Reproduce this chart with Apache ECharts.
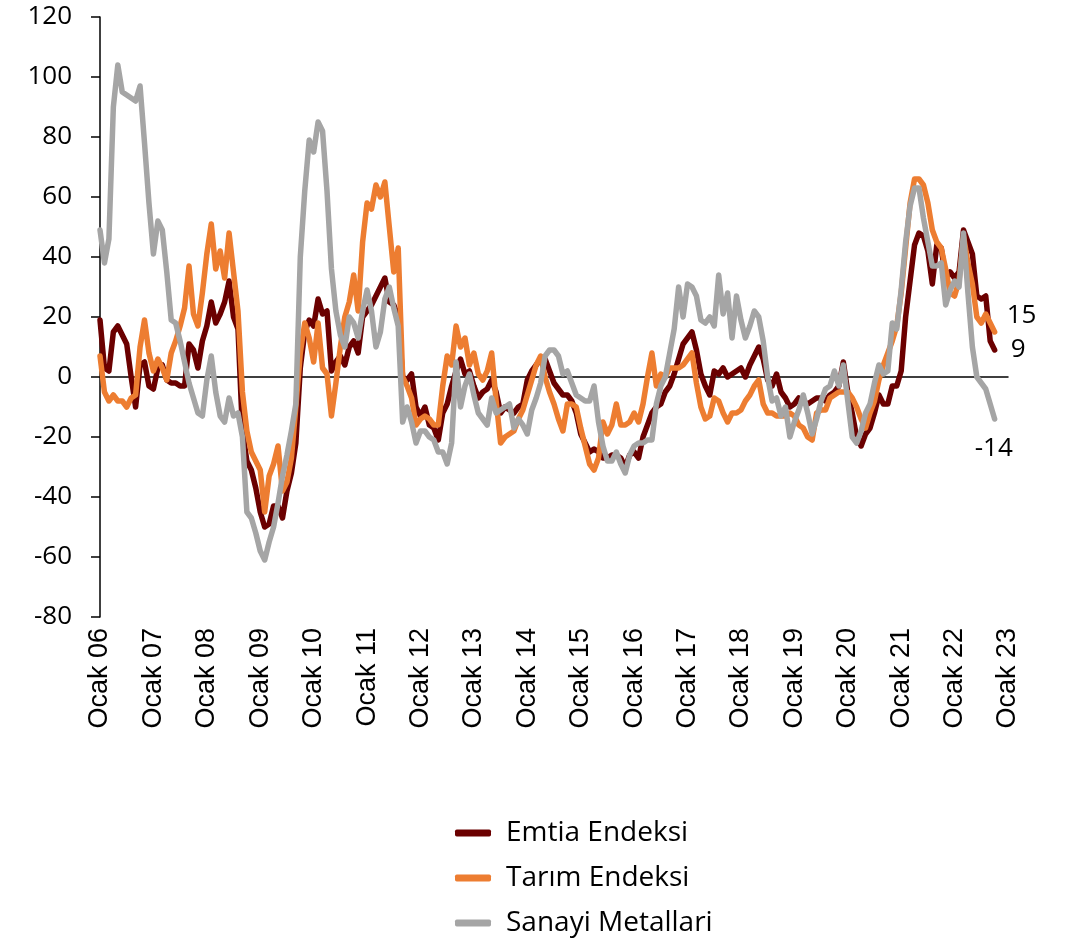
<!DOCTYPE html>
<html>
<head>
<meta charset="utf-8">
<script src="https://cdn.jsdelivr.net/npm/echarts@6/dist/echarts.min.js"></script>
<style>
  html, body { margin: 0; padding: 0; background: #fff; }
  #chart { width: 1066px; height: 939px; }
</style>
</head>
<body>
<div id="chart"></div>
<script>
// Monthly series, Jan 2006 .. Oct 2022 (annual % change)
const startYear = 2006;
const monthCount = 205; // axis runs to Jan 2023
const tickLabels = ['Ocak 06','Ocak 07','Ocak 08','Ocak 09','Ocak 10','Ocak 11','Ocak 12','Ocak 13','Ocak 14',
                    'Ocak 15','Ocak 16','Ocak 17','Ocak 18','Ocak 19','Ocak 20','Ocak 21','Ocak 22','Ocak 23'];

const emtia = [
  19,3,2,15,17,14,11,0,-10,4, 5,-3,-4,3,4,-1,-2,-2,-3,-3, 11,9,3,12,17,25,18,21,25,32, 20,16,
  -18,-28,-31,-37,-45,-50,-49,-43,-43,-47, -38,-32,-22,3,15,19,17,26,21,22, 2,5,7,4,10,12,8,20,22,24, 27,30,33,25,24,20,
  0,-1,1,-10,-13,-10,-16,-17,-21,-12, -9,-3,2,6,1,2,-3,-7,-5,-4, -1,-5,-12,-10,-11,-12,-10,-9,-1,2, 4,6,6,2,-2,
  -4,-6,-6,-8,-12,-19,-22,-25,-24,-25, -27,-27,-26,-26,-27,-30,-26,-25,-27,-20, -16,-12,-10,-9,-5,-3,1,6,11,13, 15,9,1,
  -3,-6,2,1,3,0,1,2,3,0, 4,7,10,6,-1,-3,1,-5,-7,-10, -9,-7,-8,-9,-8,-7,-7,-8,-6,-5, -3,5,-5,-12,
  -20,-23,-19,-17,-12,-6,-9,-9,-3,-3, 2,20,32,44,48,47,42,31,44,43, 33,35,33,35,49,45,41,27,26,27, 12,9
];

const tarim = [
  7,-5,-8,-6,-8,-8,-10,-7,-6,10, 19,8,2,6,3,-1,8,12,17,23, 37,21,17,28,41,51,36,42,33,48, 35,22,
  -5,-18,-25,-28,-31,-45,-33,-29,-23,-38, -35,-27,-10,8,18,13,5,18,3,1, -13,-2,10,20,25,34,22,45,58,56, 64,60,65,50,35,43,
  0,-3,-7,-16,-14,-13,-14,-16,-16,-3, 7,4,17,10,13,4,8,1,-1,2, 8,-8,-22,-20,-19,-18,-14,-11,-6,-1, 4,7,0,-5,-9,
  -14,-18,-9,-9,-10,-17,-23,-29,-31,-27, -15,-19,-16,-9,-16,-16,-15,-12,-15,-9, 0,8,-3,1,0,3,3,3,4,6, 8,-2,-10,
  -14,-13,-7,-8,-12,-15,-12,-12,-11,-8, -6,-3,-1,-9,-12,-12,-13,-13,-13,-12, -13,-16,-17,-20,-21,-12,-11,-11,-7,-6, -5,-5,-5,-7,
  -10,-14,-17,-12,-8,-1,4,8,12,17, 28,43,58,66,66,64,58,49,45,43, 36,28,27,32,47,38,31,20,18,21, 18,15
];

const sanayi = [
  49,38,46,90,104,95,94,93,92,97, 78,58,41,52,49,35,19,18,12,5, -2,-7,-12,-13,-1,7,-5,-13,-15,-7, -13,-12,
  -20,-45,-47,-52,-58,-61,-55,-50,-42,-33, -26,-18,-9,40,62,79,75,85,82,62, 36,22,14,10,20,18,13,22,29,22, 10,15,26,30,23,17,
  -15,-10,-15,-22,-18,-18,-20,-21,-25,-25, -29,-22,5,-10,-3,1,-6,-12,-14,-16, -7,-12,-11,-10,-9,-17,-14,-16,-19,-11, -7,-2,7,9,9,
  7,1,2,-2,-6,-7,-8,-8,-3,-15, -23,-28,-28,-25,-29,-32,-26,-23,-22,-22, -21,-21,-9,-3,0,8,16,30,20,31, 30,27,19,
  18,20,17,34,21,28,13,27,19,13, 17,22,20,12,0,-8,-7,-13,-10,-20, -15,-11,-6,-12,-19,-14,-8,-4,-3,2, -3,4,-8,-20,
  -22,-18,-12,-9,-2,4,1,2,18,16, 29,45,57,63,63,53,45,37,37,38, 24,29,32,30,48,28,10,0,-2,-4, -9,-14
];

const seriesNames = ['Emtia Endeksi', 'Tarım Endeksi', 'Sanayi Metallari'];
const seriesColors = ['#6B0000', '#ED7D31', '#A5A5A5'];

// month categories
const months = [];
for (let i = 0; i < monthCount; i++) {
  const y = startYear + Math.floor(i / 12);
  const m = (i % 12) + 1;
  months.push(y + '-' + (m < 10 ? '0' + m : m));
}

const calibriLike = '"Open Sans", "Noto Sans", sans-serif';

function lineSeries(name, data, color, endCfg) {
  return {
    name: name,
    type: 'line',
    data: data,
    xAxisIndex: 0,
    showSymbol: false,
    symbol: 'none',
    smooth: false,
    lineStyle: { color: color, width: 5.5, cap: 'round', join: 'round' },
    itemStyle: { color: color },
    emphasis: { disabled: true },
    endLabel: Object.assign({
      show: true,
      color: '#000',
      fontFamily: calibriLike,
      fontSize: 26,
      formatter: function (p) { return String(p.value); }
    }, endCfg)
  };
}

const chart = echarts.init(document.getElementById('chart'), null, { renderer: 'canvas' });

chart.setOption({
  animation: false,
  backgroundColor: '#fff',
  grid: { left: 100, right: 58, top: 17, bottom: 322, containLabel: false },
  legend: {
    orient: 'vertical',
    left: 455,
    top: 819,
    height: 120,
    padding: 0,
    itemWidth: 36,
    itemHeight: 7,
    itemGap: 17,
    icon: 'roundRect',
    textStyle: { color: '#000', fontFamily: calibriLike, fontSize: 28, padding: [0, 0, 0, 10] },
    data: seriesNames
  },
  xAxis: [
    {
      type: 'category',
      data: months,
      boundaryGap: false,
      position: 'bottom',
      axisLine: { show: false, onZero: false },
      axisTick: { show: false },
      splitLine: { show: false },
      axisLabel: {
        interval: function (i) { return i % 12 === 0; },
        rotate: 90,
        margin: 11,
        color: '#000',
        fontFamily: '"Liberation Sans", Arial, sans-serif',
        fontSize: 27,
        formatter: function (v, i) { return i % 12 === 0 ? tickLabels[i / 12] : ''; }
      }
    },
    {
      // zero line
      type: 'category',
      data: months,
      boundaryGap: false,
      axisLine: { show: true, onZero: true, lineStyle: { color: '#000', width: 1.5 } },
      axisTick: { show: false },
      axisLabel: { show: false },
      splitLine: { show: false }
    }
  ],
  yAxis: {
    type: 'value',
    min: -80,
    max: 120,
    interval: 20,
    axisLine: { show: true, lineStyle: { color: '#000', width: 1.5 } },
    axisTick: { show: true, inside: false, length: 9, lineStyle: { color: '#000', width: 1.5 } },
    splitLine: { show: false },
    axisLabel: { color: '#000', fontFamily: calibriLike, fontSize: 26, margin: 28 }
  },
  series: [
    lineSeries(seriesNames[0], emtia, seriesColors[0], { distance: 16, offset: [0, 0] }),
    lineSeries(seriesNames[1], tarim, seriesColors[1], { distance: 12, offset: [0, -16] }),
    lineSeries(seriesNames[2], sanayi, seriesColors[2], { distance: 0, offset: [-20, 30] })
  ]
});
</script>
</body>
</html>
